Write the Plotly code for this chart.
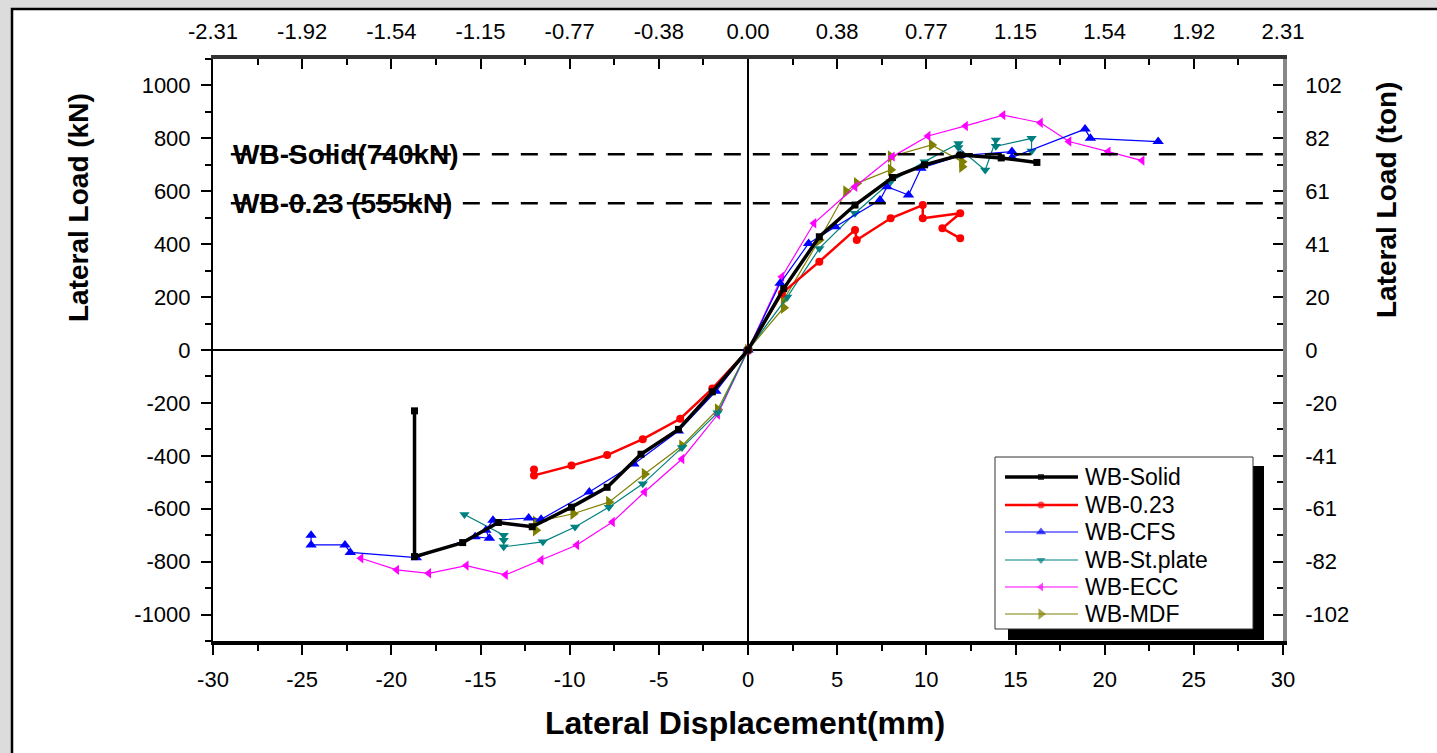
import plotly.graph_objects as go

# ---------------- data ----------------
solid_disp = [-18.7, -18.7, -16.0, -14.0, -12.1, -9.9, -7.9, -6.0, -3.9, -2.0, 0.0,
              2.0, 4.0, 6.0, 8.1, 9.9, 11.9, 14.2, 16.2]
solid_load = [-230, -781, -728, -652, -668, -594, -519, -394, -300, -158, 0,
              232, 428, 548, 652, 700, 737, 726, 709]

r023_disp = [-12.0, -12.0, -9.9, -7.9, -5.9, -3.8, -2.0, 0.0,
             1.9, 4.0, 6.0, 6.1, 8.0, 9.8, 9.8, 11.9, 10.9, 11.9]
r023_load = [-452, -474, -437, -397, -337, -260, -146, 0,
             214, 334, 454, 416, 498, 548, 498, 517, 460, 422]

cfs_disp = [-24.5, -24.5, -22.6, -22.3, -18.6, -15.3, -14.5, -14.7, -14.3, -12.3, -11.6,
            -8.9, -6.4, -3.9, -1.8, 0.0,
            1.8, 3.4, 4.9, 7.4, 7.8, 9.0, 9.7, 11.9, 14.8, 14.8, 18.9, 19.2, 23.0]
cfs_load = [-700, -737, -737, -765, -785, -706, -712, -681, -644, -635, -640,
            -537, -431, -306, -156, 0,
            252, 403, 466, 567, 617, 586, 687, 735, 750, 728, 835, 800, 788]

stp_disp = [-15.9, -13.7, -13.7, -13.7, -11.5, -9.7, -7.8, -5.9, -3.7, -1.7, 0.0,
            2.2, 4.0, 6.0, 8.0, 9.9, 11.8, 11.8, 13.3, 13.9, 13.9, 15.9, 15.9]
stp_load = [-622, -700, -719, -744, -725, -669, -594, -506, -369, -237, 0,
            200, 384, 517, 636, 712, 781, 765, 680, 794, 770, 800, 752]

ecc_disp = [-21.7, -19.7, -17.9, -15.8, -13.6, -11.6, -9.6, -7.6, -5.8, -3.7, -1.7, 0.0,
            1.9, 3.7, 6.0, 8.1, 10.1, 12.2, 14.3, 16.4, 18.0, 20.2, 22.1]
ecc_load = [-787, -831, -844, -815, -850, -794, -737, -650, -537, -412, -244, 0,
            277, 479, 617, 731, 809, 847, 888, 859, 788, 750, 716]

mdf_disp = [-11.9, -11.9, -9.8, -7.8, -5.8, -3.7, -1.7, 0.0,
            2.0, 2.0, 4.0, 5.5, 6.1, 8.0, 8.0, 10.3, 12.0, 12.0]
mdf_load = [-681, -650, -619, -575, -469, -362, -225, 0,
            160, 190, 416, 599, 630, 681, 731, 775, 712, 693]

series_names = ["WB-Solid", "WB-0.23", "WB-CFS", "WB-St.plate", "WB-ECC", "WB-MDF"]
series_colors = ["#000000", "#ff0000", "#0000ff", "#008080", "#ff00ff", "#808000"]
series_symbols = ["square", "circle", "triangle-up", "triangle-down", "triangle-left", "triangle-right"]

ref_loads = [740, 555]
ref_labels = ["WB-Solid(740kN)", "WB-0.23 (555kN)"]

x_ticks = [-30, -25, -20, -15, -10, -5, 0, 5, 10, 15, 20, 25, 30]
x_labels = ["-30", "-25", "-20", "-15", "-10", "-5", "0", "5", "10", "15", "20", "25", "30"]
drift_labels = ["-2.31", "-1.92", "-1.54", "-1.15", "-0.77", "-0.38", "0.00",
                "0.38", "0.77", "1.15", "1.54", "1.92", "2.31"]
y_ticks = [-1000, -800, -600, -400, -200, 0, 200, 400, 600, 800, 1000]
y_labels = ["-1000", "-800", "-600", "-400", "-200", "0", "200", "400", "600", "800", "1000"]
ton_labels = ["-102", "-82", "-61", "-41", "-20", "0", "20", "41", "61", "82", "102"]

# ---------------- layout geometry (pixels) ----------------
W_FIG, H_FIG = 1437, 753
L, R, T, B = 213, 1283, 59, 641
PW, PH = R - L, B - T


def px2x(p):
    return (p - L) / PW


def px2y(p):
    return (B - p) / PH


FONT = "Liberation Sans, Arial, sans-serif"

fig = go.Figure()

data = {
    "WB-Solid": (solid_disp, solid_load),
    "WB-0.23": (r023_disp, r023_load),
    "WB-CFS": (cfs_disp, cfs_load),
    "WB-St.plate": (stp_disp, stp_load),
    "WB-ECC": (ecc_disp, ecc_load),
    "WB-MDF": (mdf_disp, mdf_load),
}
line_w = {"WB-Solid": 3.5, "WB-0.23": 2.5, "WB-CFS": 1.2, "WB-St.plate": 1.2,
          "WB-ECC": 1.2, "WB-MDF": 1.2}
msize = {"WB-Solid": 7, "WB-0.23": 8, "WB-CFS": 10, "WB-St.plate": 9,
         "WB-ECC": 9, "WB-MDF": 11}

draw_order = ["WB-MDF", "WB-ECC", "WB-St.plate", "WB-CFS", "WB-0.23", "WB-Solid"]
for nm in draw_order:
    i = series_names.index(nm)
    xs, ys = data[nm]
    fig.add_trace(go.Scatter(
        x=xs, y=ys, name=nm, mode="lines+markers", showlegend=False,
        line=dict(color=series_colors[i], width=line_w[nm]),
        marker=dict(symbol=series_symbols[i], size=msize[nm], color=series_colors[i],
                    line=dict(width=0)),
    ))

# invisible trace on secondary axes so they are drawn
fig.add_trace(go.Scatter(x=[None], y=[None], xaxis="x2", yaxis="y2", showlegend=False,
                         hoverinfo="skip"))

# ---------------- manual legend (drawn on an auxiliary 0..1 axis pair) ----------------
leg_rows = [477, 505, 532, 560, 587, 614]
for i, nm in enumerate(series_names):
    yy = px2y(leg_rows[i])
    fig.add_trace(go.Scatter(
        x=[px2x(1005), px2x(1041), px2x(1078)], y=[yy, yy, yy],
        xaxis="x3", yaxis="y3", mode="lines+markers", showlegend=False, hoverinfo="skip",
        line=dict(color=series_colors[i], width=line_w[nm] if i < 2 else 1.2),
        marker=dict(symbol=series_symbols[i], size=[0, msize[nm] - 1, 0],
                    color=series_colors[i], line=dict(width=0)),
    ))

shapes = []
# white panel with black frame over the grey page
shapes.append(dict(type="rect", xref="paper", yref="paper", layer="below",
                   x0=px2x(12), x1=px2x(1450), y0=px2y(760), y1=px2y(9),
                   fillcolor="white", line=dict(color="black", width=2.5)))
# legend shadow + box
shapes.append(dict(type="rect", xref="paper", yref="paper", layer="below",
                   x0=px2x(1008), x1=px2x(1264), y0=px2y(640), y1=px2y(466),
                   fillcolor="black", line=dict(width=0)))
shapes.append(dict(type="rect", xref="paper", yref="paper", layer="below",
                   x0=px2x(995), x1=px2x(1253), y0=px2y(629), y1=px2y(457),
                   fillcolor="white", line=dict(color="#333333", width=1)))
# reference dashed lines
for v in ref_loads:
    shapes.append(dict(type="line", xref="x", yref="y", x0=-29.0, x1=30, y0=v, y1=v,
                       layer="above", line=dict(color="black", width=2.5, dash="17px,12px")))

annotations = []
for v, t in zip(ref_loads, ref_labels):
    annotations.append(dict(x=-29.0, y=v, xref="x", yref="y", text="<b>%s</b>" % t,
                            showarrow=False, xanchor="left", yanchor="middle",
                            font=dict(family=FONT, size=28, color="black")))
for i, nm in enumerate(series_names):
    annotations.append(dict(x=px2x(1083), y=px2y(leg_rows[i]), xref="paper", yref="paper",
                            text=nm, showarrow=False, xanchor="left", yanchor="middle",
                            font=dict(family=FONT, size=23, color="black")))
# axis titles
annotations.append(dict(x=px2x(78), y=px2y(208), xref="paper", yref="paper",
                        text="<b>Lateral Load (kN)</b>", textangle=-90, showarrow=False,
                        xanchor="center", yanchor="middle",
                        font=dict(family=FONT, size=28, color="black")))
annotations.append(dict(x=px2x(1386), y=px2y(200), xref="paper", yref="paper",
                        text="<b>Lateral Load (ton)</b>", textangle=-90, showarrow=False,
                        xanchor="center", yanchor="middle",
                        font=dict(family=FONT, size=28, color="black")))
annotations.append(dict(x=px2x(745), y=px2y(723), xref="paper", yref="paper",
                        text="<b>Lateral Displacement(mm)</b>", showarrow=False,
                        xanchor="center", yanchor="middle",
                        font=dict(family=FONT, size=32, color="black")))

tickfont = dict(family=FONT, size=22, color="black")

fig.update_layout(
    width=W_FIG, height=H_FIG,
    margin=dict(l=L, r=W_FIG - R, t=T, b=H_FIG - B, pad=0),
    paper_bgcolor="#dcdcdc", plot_bgcolor="white",
    showlegend=False,
    xaxis=dict(range=[-30, 30], tickmode="array", tickvals=x_ticks, ticktext=x_labels,
               ticks="outside", ticklen=10, tickwidth=1.5, tickcolor="black",
               minor=dict(ticks="outside", ticklen=6, tickwidth=1.5, tickcolor="black",
                          dtick=2.5, tick0=0),
               showline=True, linewidth=3.5, linecolor="black", mirror=False,
               showgrid=False, zeroline=True, zerolinecolor="black", zerolinewidth=2,
               tickfont=tickfont, ticklabelstandoff=6),
    xaxis2=dict(range=[-30, 30], overlaying="x", side="top", anchor="y",
                tickmode="array", tickvals=x_ticks, ticktext=drift_labels,
                ticks="inside", ticklen=10, tickwidth=1.5, tickcolor="black",
                minor=dict(ticks="inside", ticklen=6, tickwidth=1.5, tickcolor="black",
                           dtick=2.5, tick0=0),
                showline=True, linewidth=3.5, linecolor="#333333",
                showgrid=False, zeroline=False, tickfont=tickfont, ticklabelstandoff=7),
    yaxis=dict(range=[-1100, 1100], tickmode="array", tickvals=y_ticks, ticktext=y_labels,
               ticks="outside", ticklen=10, tickwidth=1.5, tickcolor="black",
               minor=dict(ticks="outside", ticklen=6, tickwidth=1.5, tickcolor="black",
                          dtick=100, tick0=0),
               showline=True, linewidth=2, linecolor="black",
               showgrid=False, zeroline=True, zerolinecolor="black", zerolinewidth=2,
               tickfont=tickfont, ticklabelstandoff=6),
    yaxis2=dict(range=[-1100, 1100], overlaying="y", side="right", anchor="x",
                tickmode="array", tickvals=y_ticks, ticktext=ton_labels,
                ticks="inside", ticklen=10, tickwidth=1.5, tickcolor="black",
                minor=dict(ticks="inside", ticklen=6, tickwidth=1.5, tickcolor="black",
                           dtick=100, tick0=0),
                showline=True, linewidth=3.5, linecolor="#888888",
                showgrid=False, zeroline=False, tickfont=tickfont, ticklabelstandoff=14),
    xaxis3=dict(range=[0, 1], overlaying="x", visible=False, fixedrange=True),
    yaxis3=dict(range=[0, 1], overlaying="y", visible=False, fixedrange=True),
    shapes=shapes,
    annotations=annotations,
)

fig.write_html("out.html", config={"displayModeBar": False},
               post_script="document.body.style.margin='0';")
